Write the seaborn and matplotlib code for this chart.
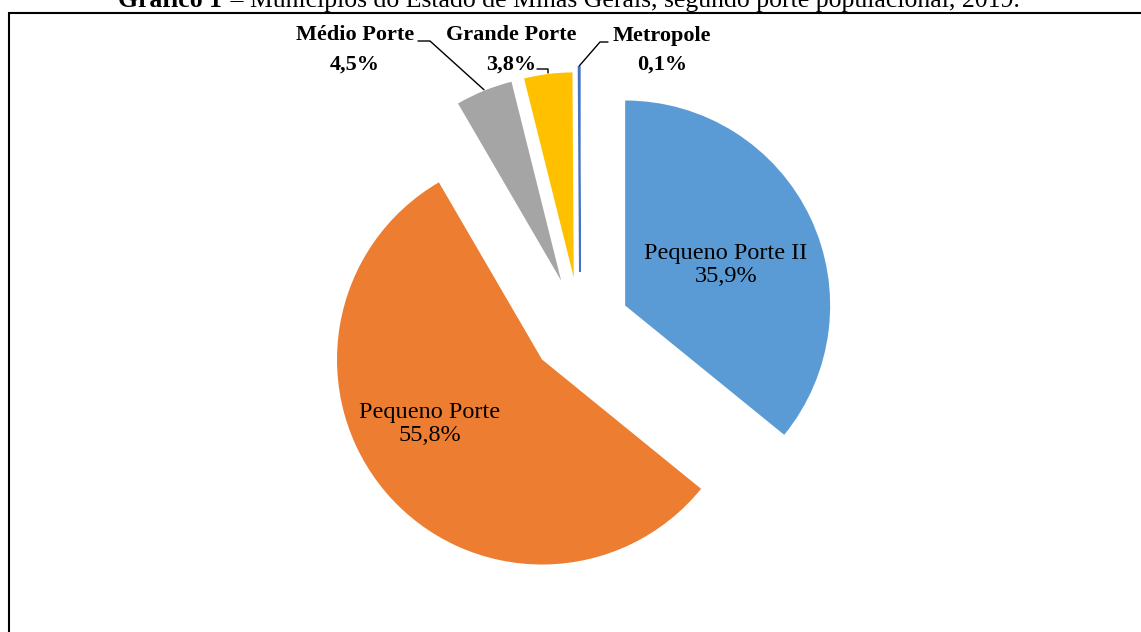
import numpy as np
import seaborn as sns
import matplotlib.pyplot as plt
from matplotlib.patches import Rectangle

# dados
categorias = ["Pequeno Porte II", "Pequeno Porte", "Médio Porte", "Grande Porte", "Metropole"]
percentuais = [35.9, 55.8, 4.5, 3.8, 0.1]
rotulos_pct = ["35,9%", "55,8%", "4,5%", "3,8%", "0,1%"]
cores = ["#5B9BD5", "#ED7D31", "#A5A5A5", "#FFC000", "#4472C4"]
explosao = [50, 50, 50, 50, 55]  # deslocamento em pixels (unidades de dados)

sns.set_theme(style="white")
plt.rcParams['font.family'] = ['Liberation Serif', 'DejaVu Serif']
plt.rcParams['text.color'] = 'black'

W, H = 1141, 632
fig = plt.figure(figsize=(W / 100, H / 100), dpi=100)
ax = fig.add_axes([0, 0, 1, 1])

wedges, _ = ax.pie(percentuais, colors=cores, startangle=90, counterclock=False,
                   explode=explosao, center=(580, 305), radius=205,
                   wedgeprops=dict(linewidth=0))
wedges[4].set_edgecolor(cores[4])
wedges[4].set_linewidth(1.2)
ax.set_xlim(0, W)
ax.set_ylim(0, H)
ax.set_aspect('equal')
ax.axis('off')

# rotulos internos
ax.text(726, H - 265, categorias[0] + "\n" + rotulos_pct[0], ha='center', va='center',
        fontsize=17.5, linespacing=1.15, color='black')
ax.text(430, H - 424, categorias[1] + "\n" + rotulos_pct[1], ha='center', va='center',
        fontsize=17.5, linespacing=1.15, color='black')


def topo_fatia(w):
    ang = np.deg2rad((w.theta1 + w.theta2) / 2)
    cx, cy = w.center
    return cx + w.r * np.cos(ang), cy + w.r * np.sin(ang)


# rotulos externos com linhas de chamada
externos = [(2, 355, 50, [(418, 41), (430, 41)]),
            (3, 511, 50, [(537, 69), (548, 69)]),
            (4, 662, 50, [(608, 42), (600, 42)])]
for i, x, y, pts in externos:
    ax.text(x, H - y, categorias[i] + "\n" + rotulos_pct[i], ha='center', va='center',
            fontsize=16, fontweight='bold', linespacing=1.6, color='black')
    tx, ty = topo_fatia(wedges[i])
    xs = [p[0] for p in pts] + [tx]
    ys = [H - p[1] for p in pts] + [ty + 1]
    ax.plot(xs, ys, color='black', lw=1)

# moldura
fig.patches.append(Rectangle((9 / W, -0.1), 2, (H - 12.5) / H + 0.1, transform=fig.transFigure,
                             fill=False, edgecolor='black', lw=1.5))

# titulo (cortado no topo, como no original)
t1 = fig.text(118 / W, 1 - 7 / H, "Gráfico 1", fontsize=18.5, fontweight='bold',
              va='baseline', color='black')
fig.canvas.draw()
bb = t1.get_window_extent()
fig.text((bb.x1 + 2) / W, 1 - 7 / H,
         " – Municípios do Estado de Minas Gerais, segundo porte populacional, 2019.",
         fontsize=18.5, va='baseline', color='black')

plt.savefig("out.png", dpi=100)
